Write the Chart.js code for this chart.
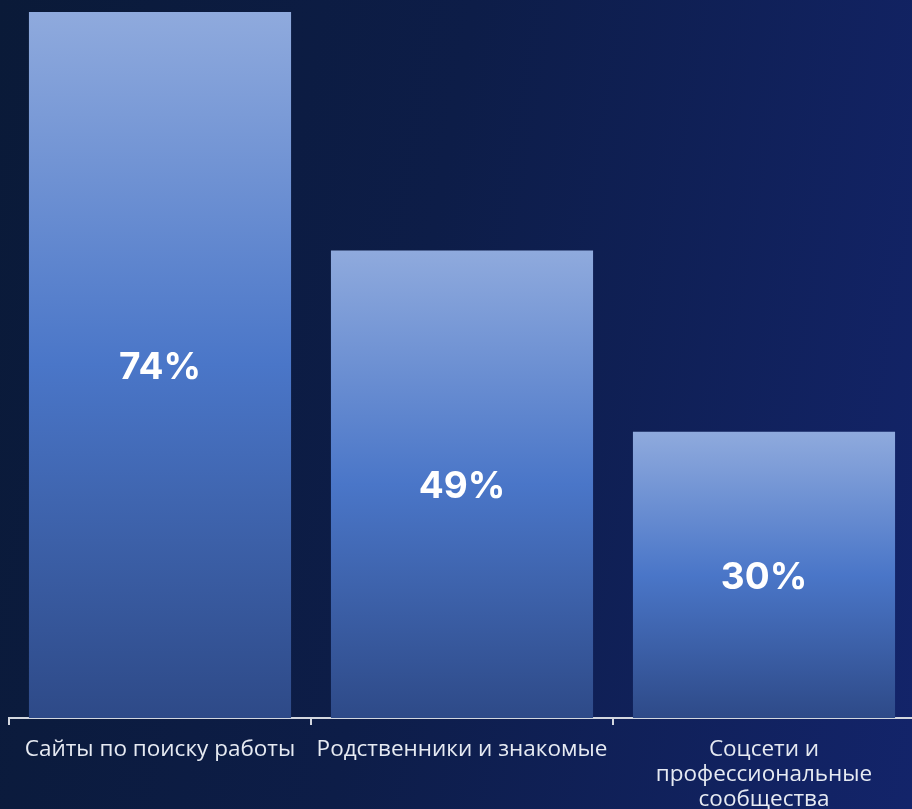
<!DOCTYPE html>
<html>
<head>
<meta charset="utf-8">
<script src="https://cdn.jsdelivr.net/npm/chart.js@4"></script>
<style>
  html, body { margin: 0; padding: 0; overflow: hidden; }
  body {
    width: 912px; height: 809px;
    background: linear-gradient(100deg, #0a1a38 0%, #0d1d48 45%, #13246a 100%);
  }
  #wrap { position: relative; width: 920px; height: 809px; }
</style>
</head>
<body>
<div id="wrap"><canvas id="chart"></canvas></div>
<script>
// categories and values (share of respondents, %)
const categories = [
  'Сайты по поиску работы',
  'Родственники и знакомые',
  ['Соцсети и', 'профессиональные', 'сообщества']
];
const values = [74, 49, 30];

// bar fill: light on top, bright blue in the middle, darker at the base
function barFill(ctx) {
  const chart = ctx.chart;
  const area = chart.chartArea;
  if (!area) return '#4a76c8';
  const top = chart.scales.y.getPixelForValue(ctx.raw);
  const g = chart.ctx.createLinearGradient(0, top, 0, area.bottom);
  g.addColorStop(0, '#8faadd');
  g.addColorStop(0.5, '#4a76c8');
  g.addColorStop(1, '#2e4a88');
  return g;
}

// value text in the middle of each bar
const valueLabels = {
  id: 'valueLabels',
  afterDatasetsDraw(chart) {
    const c = chart.ctx;
    const meta = chart.getDatasetMeta(0);
    c.save();
    c.fillStyle = '#ffffff';
    c.font = 'bold 37px Inter';
    c.textAlign = 'center';
    c.textBaseline = 'middle';
    meta.data.forEach((bar, i) => {
      c.fillText(values[i] + '%', bar.x, (bar.y + bar.base) / 2 + 3);
    });
    c.restore();
  }
};

new Chart(document.getElementById('chart'), {
  type: 'bar',
  data: {
    labels: categories,
    datasets: [{
      data: values,
      backgroundColor: barFill,
      borderWidth: 0,
      categoryPercentage: 1,
      barPercentage: 0.868
    }]
  },
  options: {
    responsive: true,
    maintainAspectRatio: false,
    animation: false,
    layout: { padding: { left: 9, right: 5, top: 12, bottom: 0 } },
    plugins: { legend: { display: false }, tooltip: { enabled: false } },
    scales: {
      y: { display: false, min: 0, max: 74 },
      x: {
        afterFit(scale) { scale.height = 91; },
        border: { display: true, color: '#d3d7df', width: 2 },
        grid: {
          offset: true,
          drawOnChartArea: false,
          drawTicks: true,
          tickLength: 7,
          color: '#d3d7df',
          lineWidth: 2
        },
        ticks: {
          color: '#e6eaf2',
          padding: 12,
          maxRotation: 0,
          autoSkip: false,
          font: { family: '"Open Sans"', size: 22.5, lineHeight: 1.12 }
        }
      }
    }
  },
  plugins: [valueLabels]
});
</script>
</body>
</html>
